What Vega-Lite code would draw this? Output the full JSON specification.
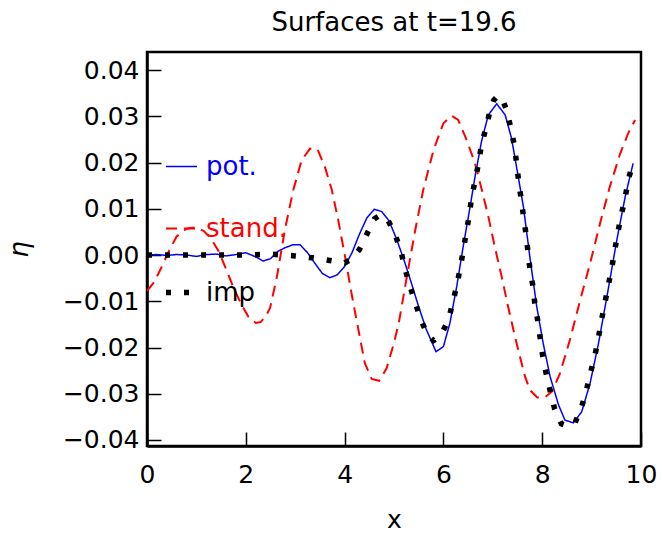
{
  "$schema": "https://vega.github.io/schema/vega-lite/v6.json",
  "width": 494,
  "height": 394,
  "autosize": {"type": "none"},
  "padding": {"left": 147, "top": 52, "right": 21, "bottom": 88},
  "background": "white",
  "config": {
    "font": "DejaVu Sans",
    "view": {"stroke": "black", "strokeWidth": 2.5},
    "axis": {"labelFont": "DejaVu Sans", "titleFont": "DejaVu Sans", "labelColor": "black", "titleColor": "black", "grid": false, "domainColor": "black", "domainWidth": 2.5, "tickColor": "black", "tickWidth": 1.5}
  },
  "title": {"text": "Surfaces at t=19.6", "fontSize": 26, "fontWeight": "normal", "font": "DejaVu Sans", "color": "black", "offset": 16, "anchor": "middle"},
  "data": {"values": [
    {"x": 0.0, "y": 0.0000, "s": "pot."},
    {"x": 0.2, "y": 0.0001, "s": "pot."},
    {"x": 0.4, "y": -0.0001, "s": "pot."},
    {"x": 0.6, "y": 0.0001, "s": "pot."},
    {"x": 0.8, "y": 0.0000, "s": "pot."},
    {"x": 1.0, "y": -0.0003, "s": "pot."},
    {"x": 1.2, "y": 0.0001, "s": "pot."},
    {"x": 1.4, "y": 0.0002, "s": "pot."},
    {"x": 1.6, "y": -0.0002, "s": "pot."},
    {"x": 1.8, "y": 0.0001, "s": "pot."},
    {"x": 2.0, "y": 0.0005, "s": "pot."},
    {"x": 2.2, "y": -0.0004, "s": "pot."},
    {"x": 2.35, "y": -0.0013, "s": "pot."},
    {"x": 2.5, "y": -0.0008, "s": "pot."},
    {"x": 2.65, "y": 0.0008, "s": "pot."},
    {"x": 2.8, "y": 0.0016, "s": "pot."},
    {"x": 2.95, "y": 0.0022, "s": "pot."},
    {"x": 3.1, "y": 0.0022, "s": "pot."},
    {"x": 3.25, "y": 0.0005, "s": "pot."},
    {"x": 3.4, "y": -0.0018, "s": "pot."},
    {"x": 3.55, "y": -0.0040, "s": "pot."},
    {"x": 3.7, "y": -0.0049, "s": "pot."},
    {"x": 3.85, "y": -0.0043, "s": "pot."},
    {"x": 4.0, "y": -0.0025, "s": "pot."},
    {"x": 4.15, "y": 0.0005, "s": "pot."},
    {"x": 4.3, "y": 0.0045, "s": "pot."},
    {"x": 4.45, "y": 0.0080, "s": "pot."},
    {"x": 4.6, "y": 0.0099, "s": "pot."},
    {"x": 4.75, "y": 0.0094, "s": "pot."},
    {"x": 4.9, "y": 0.0074, "s": "pot."},
    {"x": 5.05, "y": 0.0035, "s": "pot."},
    {"x": 5.2, "y": -0.0010, "s": "pot."},
    {"x": 5.35, "y": -0.0060, "s": "pot."},
    {"x": 5.5, "y": -0.0112, "s": "pot."},
    {"x": 5.65, "y": -0.0160, "s": "pot."},
    {"x": 5.85, "y": -0.0209, "s": "pot."},
    {"x": 6.0, "y": -0.0198, "s": "pot."},
    {"x": 6.13, "y": -0.0148, "s": "pot."},
    {"x": 6.27, "y": -0.0068, "s": "pot."},
    {"x": 6.4, "y": 0.0018, "s": "pot."},
    {"x": 6.54, "y": 0.0104, "s": "pot."},
    {"x": 6.64, "y": 0.0169, "s": "pot."},
    {"x": 6.77, "y": 0.0245, "s": "pot."},
    {"x": 6.91, "y": 0.0303, "s": "pot."},
    {"x": 7.08, "y": 0.0327, "s": "pot."},
    {"x": 7.25, "y": 0.0303, "s": "pot."},
    {"x": 7.38, "y": 0.0252, "s": "pot."},
    {"x": 7.48, "y": 0.0191, "s": "pot."},
    {"x": 7.62, "y": 0.0104, "s": "pot."},
    {"x": 7.75, "y": -0.0004, "s": "pot."},
    {"x": 7.89, "y": -0.0112, "s": "pot."},
    {"x": 8.02, "y": -0.0191, "s": "pot."},
    {"x": 8.16, "y": -0.0263, "s": "pot."},
    {"x": 8.33, "y": -0.0324, "s": "pot."},
    {"x": 8.46, "y": -0.0357, "s": "pot."},
    {"x": 8.63, "y": -0.0363, "s": "pot."},
    {"x": 8.80, "y": -0.0339, "s": "pot."},
    {"x": 8.97, "y": -0.0277, "s": "pot."},
    {"x": 9.14, "y": -0.0191, "s": "pot."},
    {"x": 9.31, "y": -0.0090, "s": "pot."},
    {"x": 9.51, "y": 0.0032, "s": "pot."},
    {"x": 9.68, "y": 0.0126, "s": "pot."},
    {"x": 9.84, "y": 0.0198, "s": "pot."},

    {"x": 0.0, "y": -0.0078, "s": "stand."},
    {"x": 0.15, "y": -0.0058, "s": "stand."},
    {"x": 0.3, "y": -0.0025, "s": "stand."},
    {"x": 0.45, "y": 0.0010, "s": "stand."},
    {"x": 0.6, "y": 0.0040, "s": "stand."},
    {"x": 0.8, "y": 0.0057, "s": "stand."},
    {"x": 1.0, "y": 0.0060, "s": "stand."},
    {"x": 1.15, "y": 0.0052, "s": "stand."},
    {"x": 1.3, "y": 0.0035, "s": "stand."},
    {"x": 1.45, "y": 0.0008, "s": "stand."},
    {"x": 1.6, "y": -0.0030, "s": "stand."},
    {"x": 1.75, "y": -0.0070, "s": "stand."},
    {"x": 1.9, "y": -0.0105, "s": "stand."},
    {"x": 2.05, "y": -0.0133, "s": "stand."},
    {"x": 2.2, "y": -0.0147, "s": "stand."},
    {"x": 2.3, "y": -0.0145, "s": "stand."},
    {"x": 2.4, "y": -0.0133, "s": "stand."},
    {"x": 2.49, "y": -0.0115, "s": "stand."},
    {"x": 2.63, "y": -0.0047, "s": "stand."},
    {"x": 2.79, "y": 0.0054, "s": "stand."},
    {"x": 2.96, "y": 0.0140, "s": "stand."},
    {"x": 3.13, "y": 0.0205, "s": "stand."},
    {"x": 3.3, "y": 0.0230, "s": "stand."},
    {"x": 3.45, "y": 0.0229, "s": "stand."},
    {"x": 3.6, "y": 0.0191, "s": "stand."},
    {"x": 3.74, "y": 0.0141, "s": "stand."},
    {"x": 3.87, "y": 0.0076, "s": "stand."},
    {"x": 4.01, "y": -0.0004, "s": "stand."},
    {"x": 4.14, "y": -0.0083, "s": "stand."},
    {"x": 4.28, "y": -0.0162, "s": "stand."},
    {"x": 4.41, "y": -0.0234, "s": "stand."},
    {"x": 4.55, "y": -0.0268, "s": "stand."},
    {"x": 4.7, "y": -0.0272, "s": "stand."},
    {"x": 4.85, "y": -0.0245, "s": "stand."},
    {"x": 5.0, "y": -0.0190, "s": "stand."},
    {"x": 5.1, "y": -0.0145, "s": "stand."},
    {"x": 5.26, "y": -0.0047, "s": "stand."},
    {"x": 5.43, "y": 0.0054, "s": "stand."},
    {"x": 5.59, "y": 0.0140, "s": "stand."},
    {"x": 5.8, "y": 0.0227, "s": "stand."},
    {"x": 6.0, "y": 0.0285, "s": "stand."},
    {"x": 6.17, "y": 0.0301, "s": "stand."},
    {"x": 6.3, "y": 0.0292, "s": "stand."},
    {"x": 6.47, "y": 0.0249, "s": "stand."},
    {"x": 6.64, "y": 0.0198, "s": "stand."},
    {"x": 6.78, "y": 0.0140, "s": "stand."},
    {"x": 6.91, "y": 0.0083, "s": "stand."},
    {"x": 7.04, "y": 0.0018, "s": "stand."},
    {"x": 7.18, "y": -0.0047, "s": "stand."},
    {"x": 7.31, "y": -0.0112, "s": "stand."},
    {"x": 7.45, "y": -0.0177, "s": "stand."},
    {"x": 7.55, "y": -0.0220, "s": "stand."},
    {"x": 7.65, "y": -0.0262, "s": "stand."},
    {"x": 7.75, "y": -0.0292, "s": "stand."},
    {"x": 7.9, "y": -0.0308, "s": "stand."},
    {"x": 8.05, "y": -0.0308, "s": "stand."},
    {"x": 8.2, "y": -0.0295, "s": "stand."},
    {"x": 8.36, "y": -0.0256, "s": "stand."},
    {"x": 8.56, "y": -0.0184, "s": "stand."},
    {"x": 8.77, "y": -0.0097, "s": "stand."},
    {"x": 8.97, "y": -0.0018, "s": "stand."},
    {"x": 9.17, "y": 0.0068, "s": "stand."},
    {"x": 9.37, "y": 0.0148, "s": "stand."},
    {"x": 9.58, "y": 0.0220, "s": "stand."},
    {"x": 9.74, "y": 0.0263, "s": "stand."},
    {"x": 9.88, "y": 0.0292, "s": "stand."},

    {"x": 0.0, "y": 0.0000, "s": "imp"},
    {"x": 0.5, "y": 0.0000, "s": "imp"},
    {"x": 1.0, "y": 0.0000, "s": "imp"},
    {"x": 1.5, "y": 0.0000, "s": "imp"},
    {"x": 2.0, "y": 0.0000, "s": "imp"},
    {"x": 2.5, "y": 0.0002, "s": "imp"},
    {"x": 3.0, "y": -0.0002, "s": "imp"},
    {"x": 3.35, "y": -0.0006, "s": "imp"},
    {"x": 3.7, "y": -0.0012, "s": "imp"},
    {"x": 4.0, "y": -0.0017, "s": "imp"},
    {"x": 4.15, "y": -0.0008, "s": "imp"},
    {"x": 4.3, "y": 0.0012, "s": "imp"},
    {"x": 4.45, "y": 0.0045, "s": "imp"},
    {"x": 4.6, "y": 0.0078, "s": "imp"},
    {"x": 4.72, "y": 0.0086, "s": "imp"},
    {"x": 4.86, "y": 0.0079, "s": "imp"},
    {"x": 5.02, "y": 0.0045, "s": "imp"},
    {"x": 5.14, "y": 0.0009, "s": "imp"},
    {"x": 5.22, "y": -0.0029, "s": "imp"},
    {"x": 5.32, "y": -0.0066, "s": "imp"},
    {"x": 5.43, "y": -0.0103, "s": "imp"},
    {"x": 5.54, "y": -0.0139, "s": "imp"},
    {"x": 5.68, "y": -0.0173, "s": "imp"},
    {"x": 5.8, "y": -0.0185, "s": "imp"},
    {"x": 5.94, "y": -0.0175, "s": "imp"},
    {"x": 6.1, "y": -0.0141, "s": "imp"},
    {"x": 6.19, "y": -0.0103, "s": "imp"},
    {"x": 6.27, "y": -0.0066, "s": "imp"},
    {"x": 6.34, "y": -0.0029, "s": "imp"},
    {"x": 6.40, "y": 0.0009, "s": "imp"},
    {"x": 6.46, "y": 0.0047, "s": "imp"},
    {"x": 6.52, "y": 0.0084, "s": "imp"},
    {"x": 6.57, "y": 0.0123, "s": "imp"},
    {"x": 6.64, "y": 0.0160, "s": "imp"},
    {"x": 6.71, "y": 0.0198, "s": "imp"},
    {"x": 6.77, "y": 0.0238, "s": "imp"},
    {"x": 6.86, "y": 0.0274, "s": "imp"},
    {"x": 6.94, "y": 0.0310, "s": "imp"},
    {"x": 7.02, "y": 0.0335, "s": "imp"},
    {"x": 7.11, "y": 0.0345, "s": "imp"},
    {"x": 7.2, "y": 0.0335, "s": "imp"},
    {"x": 7.28, "y": 0.0313, "s": "imp"},
    {"x": 7.36, "y": 0.0277, "s": "imp"},
    {"x": 7.43, "y": 0.0240, "s": "imp"},
    {"x": 7.48, "y": 0.0200, "s": "imp"},
    {"x": 7.52, "y": 0.0162, "s": "imp"},
    {"x": 7.57, "y": 0.0124, "s": "imp"},
    {"x": 7.62, "y": 0.0085, "s": "imp"},
    {"x": 7.67, "y": 0.0047, "s": "imp"},
    {"x": 7.71, "y": 0.0009, "s": "imp"},
    {"x": 7.75, "y": -0.0029, "s": "imp"},
    {"x": 7.81, "y": -0.0066, "s": "imp"},
    {"x": 7.85, "y": -0.0104, "s": "imp"},
    {"x": 7.91, "y": -0.0142, "s": "imp"},
    {"x": 7.96, "y": -0.0180, "s": "imp"},
    {"x": 8.01, "y": -0.0218, "s": "imp"},
    {"x": 8.08, "y": -0.0256, "s": "imp"},
    {"x": 8.16, "y": -0.0293, "s": "imp"},
    {"x": 8.25, "y": -0.0332, "s": "imp"},
    {"x": 8.39, "y": -0.0365, "s": "imp"},
    {"x": 8.52, "y": -0.0370, "s": "imp"},
    {"x": 8.66, "y": -0.0364, "s": "imp"},
    {"x": 8.80, "y": -0.0328, "s": "imp"},
    {"x": 8.90, "y": -0.0290, "s": "imp"},
    {"x": 8.98, "y": -0.0254, "s": "imp"},
    {"x": 9.07, "y": -0.0216, "s": "imp"},
    {"x": 9.14, "y": -0.0178, "s": "imp"},
    {"x": 9.20, "y": -0.0141, "s": "imp"},
    {"x": 9.27, "y": -0.0103, "s": "imp"},
    {"x": 9.34, "y": -0.0065, "s": "imp"},
    {"x": 9.41, "y": -0.0027, "s": "imp"},
    {"x": 9.47, "y": 0.0011, "s": "imp"},
    {"x": 9.53, "y": 0.0048, "s": "imp"},
    {"x": 9.60, "y": 0.0086, "s": "imp"},
    {"x": 9.68, "y": 0.0124, "s": "imp"},
    {"x": 9.74, "y": 0.0162, "s": "imp"},
    {"x": 9.84, "y": 0.0200, "s": "imp"}
  ]},
  "mark": {"type": "line", "strokeCap": "butt", "strokeJoin": "miter", "clip": true},
  "encoding": {
    "x": {"field": "x", "type": "quantitative", "scale": {"domain": [0, 10], "nice": false, "zero": false},
      "axis": {"values": [0, 2, 4, 6, 8, 10], "format": "d", "title": "x", "labelFontSize": 25, "titleFontSize": 25, "titleFontWeight": "normal", "tickSize": -14, "labelPadding": 30, "titlePadding": 20, "labelFlush": false}},
    "y": {"field": "y", "type": "quantitative", "scale": {"domain": [-0.0413, 0.0439], "nice": false, "zero": false},
      "axis": {"values": [-0.04, -0.03, -0.02, -0.01, 0, 0.01, 0.02, 0.03, 0.04], "format": ".2f", "title": "η", "labelFontSize": 25, "titleFontSize": 26, "titleFontWeight": "normal", "titleFontStyle": "italic", "tickSize": -14, "labelPadding": 22, "titlePadding": 30, "labelFlush": false}},
    "color": {"field": "s", "type": "nominal", "sort": ["pot.", "stand.", "imp"],
      "scale": {"domain": ["pot.", "stand.", "imp"], "range": ["#0000ff", "#ff0000", "#000000"]},
      "legend": {"orient": "none", "legendX": 16, "legendY": 98, "title": null, "symbolType": "stroke", "symbolSize": 961, "labelFontSize": 26, "labelFont": "DejaVu Sans", "rowPadding": 32, "labelOffset": 6, "symbolStrokeWidth": 2,
        "labelColor": {"expr": "datum.value === 'pot.' ? '#0000ff' : datum.value === 'stand.' ? '#ff0000' : '#000000'"}}},
    "strokeDash": {"field": "s", "type": "nominal", "sort": ["pot.", "stand.", "imp"],
      "scale": {"domain": ["pot.", "stand.", "imp"], "range": [[1, 0], [11, 7], [5, 13]]}, "legend": null},
    "strokeWidth": {"field": "s", "type": "nominal", "sort": ["pot.", "stand.", "imp"],
      "scale": {"type": "ordinal", "domain": ["pot.", "stand.", "imp"], "range": [1.5, 2, 5.5]}, "legend": null}
  }
}
